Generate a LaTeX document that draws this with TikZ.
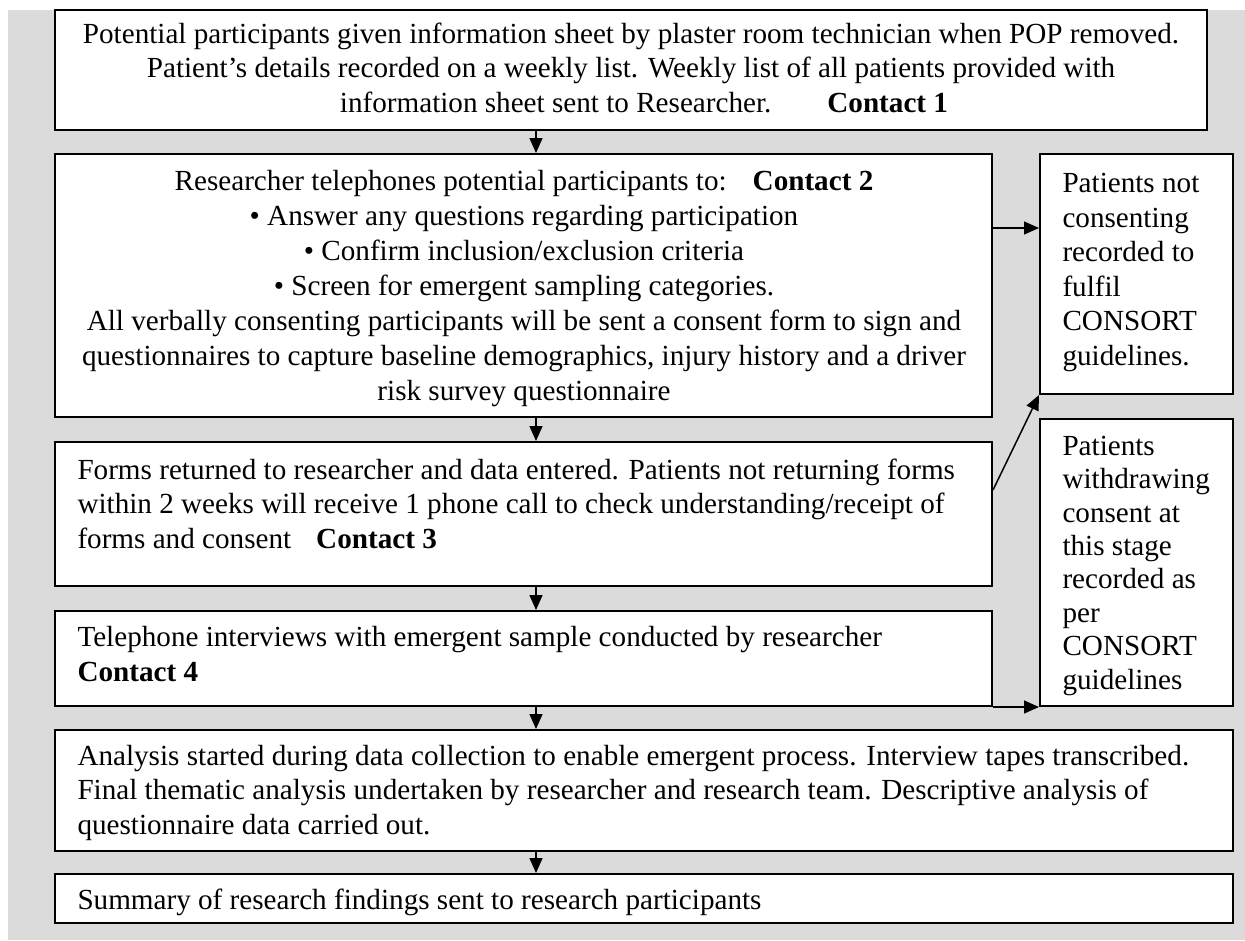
\documentclass[tikz,border=0pt]{standalone}
\usepackage{fontspec}
\setmainfont{Liberation Serif}
\usetikzlibrary{arrows.meta,fit}
\definecolor{panelgrey}{RGB}{219,219,219}
\tikzset{
        box/.style={draw, line width=0.8pt, fill=white, inner sep=0pt},
        txt/.style={inner sep=0pt, font=\fontsize{11.66}{13.8}\selectfont},
}
\begin{document}
\begin{tikzpicture}[
        >={Triangle[length=6pt,width=5.2pt]},
        x=0.4pt, y=-0.4pt,
        ]
        \useasboundingbox (0,0) rectangle (1245,940);
        \fill[panelgrey] (8,10) rectangle (1245,940);
        \node[box, fit={(55,10) (1207,130)}] (b1) {};
        \node[box, fit={(55,154) (992,417)}] (b2) {};
        \node[box, fit={(55,442) (992,586)}] (b3) {};
        \node[box, fit={(55,611) (992,706)}] (b4) {};
        \node[box, fit={(55,730) (1233,851)}] (b5) {};
        \node[box, fit={(55,874) (1233,923)}] (b6) {};
        \node[box, fit={(1040,154) (1233,394)}] (ra) {};
        \node[box, fit={(1040,419) (1233,706)}] (rb) {};
        % base = baseline of the last line
        \node[txt, anchor=base, align=center] (t1) at (631,112) {Potential participants given information sheet by plaster room technician when POP removed.\\
                Patient’s details recorded on a weekly list. Weekly list of all patients provided with\\
                \hspace*{10.4pt}information sheet sent to Researcher.\hspace{22.4pt}\textbf{Contact 1}};
        \node[txt, anchor=base, align=center, font=\fontsize{11.66}{14}\selectfont] (t2) at (524,400) {Researcher telephones potential participants to:\hspace{10.4pt}\textbf{Contact 2}\\
                \textbullet\ Answer any questions regarding participation\\
                \textbullet\ Confirm inclusion/exclusion criteria\\
                \textbullet\ Screen for emergent sampling categories.\\
                All verbally consenting participants will be sent a consent form to sign and\\
                questionnaires to capture baseline demographics, injury history and a driver\\
                risk survey questionnaire};
        \node[txt, anchor=base west, align=left] (t3) at (77,548) {Forms returned to researcher and data entered. Patients not returning forms\\
                within 2 weeks will receive 1 phone call to check understanding/receipt of\\
                forms and consent\hspace{10pt}\textbf{Contact 3}};
        \node[txt, anchor=base west, align=left] (t4) at (77,681) {Telephone interviews with emergent sample conducted by researcher\\
                \textbf{Contact 4}};
        \node[txt, anchor=base west, align=left] (t5) at (77,834) {Analysis started during data collection to enable emergent process. Interview tapes transcribed.\\
                Final thematic analysis undertaken by researcher and research team. Descriptive analysis of\\
                questionnaire data carried out.};
        \node[txt, anchor=base west] (t6) at (77,909) {Summary of research findings sent to research participants};
        \node[txt, anchor=base west, align=left] (ta) at (1062,365) {Patients not\\ consenting\\ recorded to\\ fulfil\\ CONSORT\\ guidelines.};
        \node[txt, anchor=base west, align=left, font=\fontsize{11.66}{13.35}\selectfont] (tb) at (1062,689) {Patients\\ withdrawing\\ consent at\\ this stage\\ recorded as\\ per\\ CONSORT\\ guidelines};
        \coordinate (ax) at (536,0);
        \coordinate (ay) at (0,228);
        \coordinate (az) at (0,490);
        \foreach \a/\b in {b1/b2,b2/b3,b3/b4,b4/b5,b5/b6}
        \draw[->, line width=0.6pt] (\a.south -| ax) to (\b.north -| ax);
        \draw[->, line width=0.6pt] (b2.east |- ay) to (ra.west |- ay);
        \draw[->, line width=0.6pt] (b3.east |- az) to (ra.south west);
        \draw[->, line width=0.6pt] (b4.south east) to (rb.south west);
\end{tikzpicture}
\end{document}
